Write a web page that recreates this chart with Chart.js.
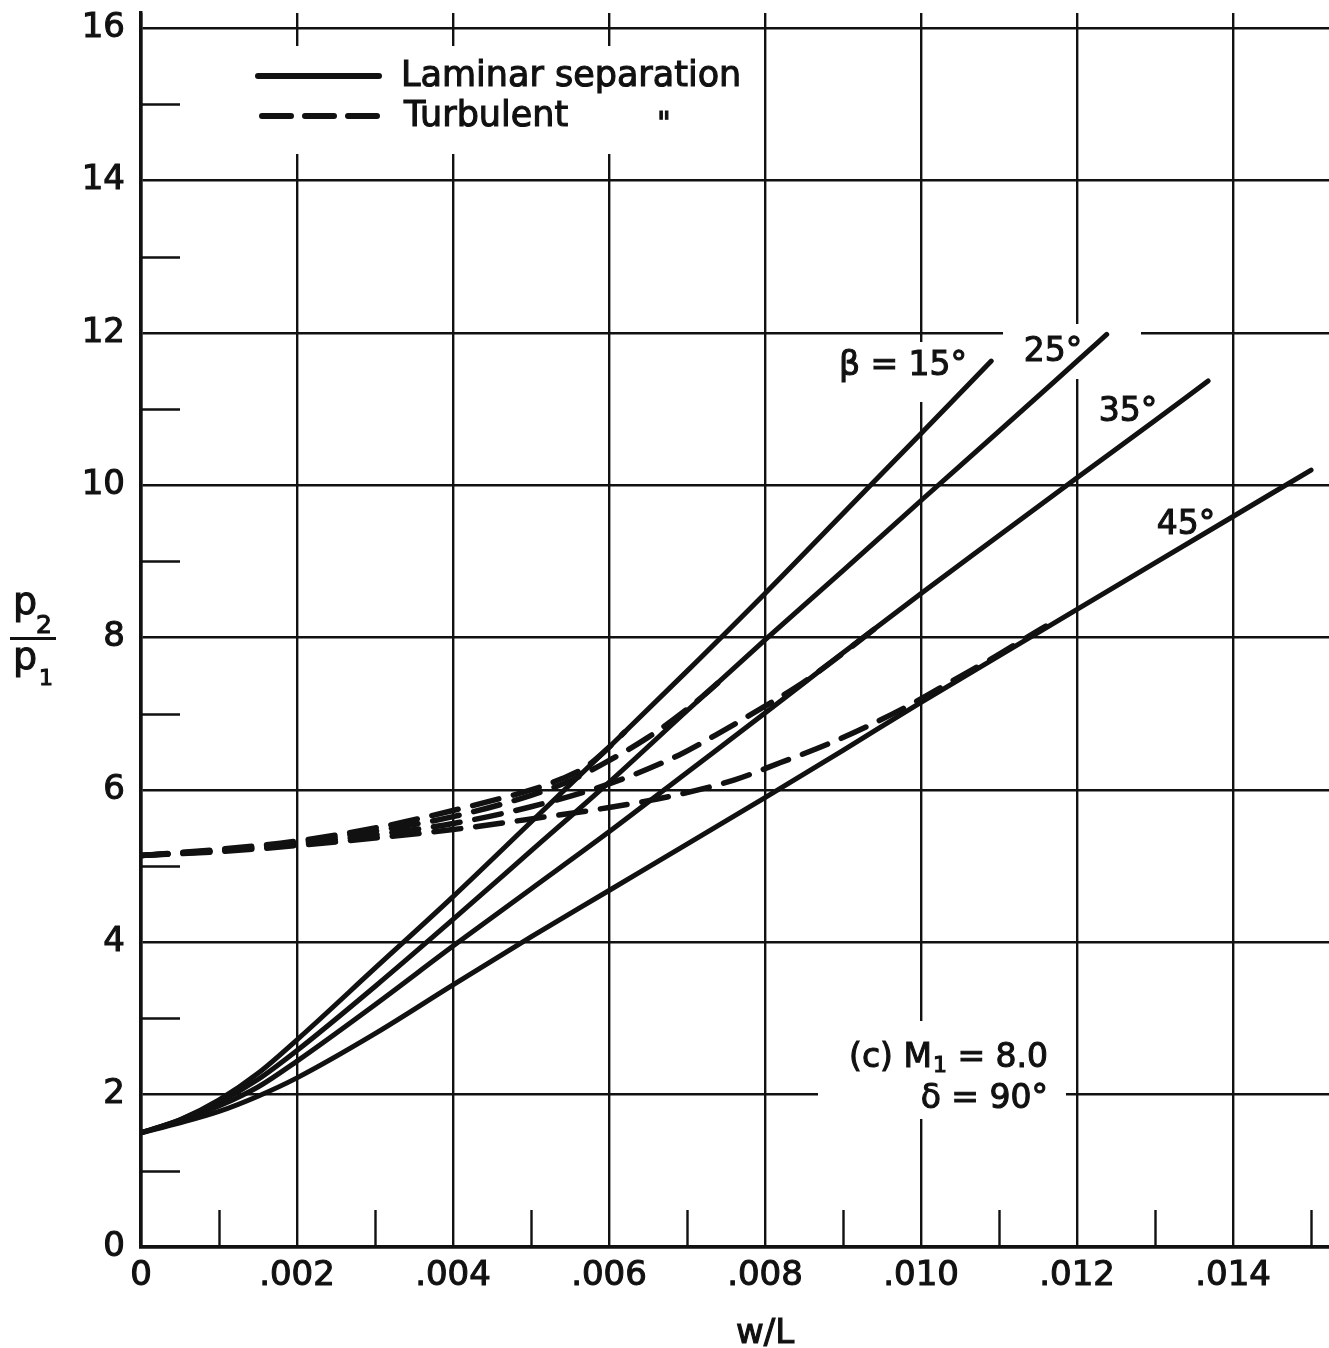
<!DOCTYPE html>
<html>
<head>
<meta charset="utf-8">
<script src="https://cdn.jsdelivr.net/npm/chart.js@4.4.1/dist/chart.umd.min.js"></script>
<style>
  html, body { margin: 0; padding: 0; background: #fff; }
  canvas { display: block; }
</style>
</head>
<body>
<canvas id="chart" width="1329" height="1348"></canvas>
<script>
// laminar separation, p2/p1 against w/L for each beta
const lam15X = [0, 0.0005, 0.001, 0.0015, 0.002, 0.003, 0.004, 0.005, 0.006, 0.007, 0.008, 0.009, 0.010, 0.0109];
const lam15Y = [1.5, 1.67, 1.93, 2.28, 2.72, 3.66, 4.6, 5.58, 6.56, 7.56, 8.58, 9.63, 10.68, 11.63];

const lam25X = [0, 0.0005, 0.001, 0.0015, 0.002, 0.003, 0.004, 0.005, 0.006, 0.007, 0.008, 0.009, 0.010, 0.011, 0.012, 0.01238];
const lam25Y = [1.5, 1.67, 1.9, 2.2, 2.58, 3.42, 4.3, 5.2, 6.1, 7.04, 7.97, 8.88, 9.8, 10.71, 11.63, 11.98];

const lam35X = [0, 0.0005, 0.001, 0.0015, 0.002, 0.003, 0.004, 0.005, 0.006, 0.007, 0.008, 0.009, 0.010, 0.011, 0.012, 0.013, 0.01368];
const lam35Y = [1.5, 1.65, 1.85, 2.1, 2.44, 3.18, 3.95, 4.7, 5.45, 6.23, 7.01, 7.8, 8.58, 9.34, 10.1, 10.85, 11.37];

const lam45X = [0, 0.0005, 0.001, 0.0015, 0.002, 0.003, 0.004, 0.005, 0.006, 0.007, 0.008, 0.009, 0.010, 0.011, 0.012, 0.013, 0.014, 0.0150];
const lam45Y = [1.5, 1.63, 1.78, 1.98, 2.22, 2.8, 3.44, 4.07, 4.68, 5.29, 5.9, 6.52, 7.15, 7.76, 8.37, 8.98, 9.59, 10.2];

// turbulent separation, running into the laminar curve of the same beta
const turb15X = [0, 0.001, 0.002, 0.003, 0.004, 0.0045, 0.005, 0.0054, 0.0057, 0.006, 0.0062];
const turb15Y = [5.14, 5.22, 5.33, 5.5, 5.73, 5.86, 6.0, 6.15, 6.3, 6.56, 6.76];

const turb25X = [0, 0.001, 0.002, 0.003, 0.004, 0.005, 0.0055, 0.0059, 0.0065, 0.007, 0.0072, 0.0075];
const turb25Y = [5.14, 5.21, 5.31, 5.46, 5.65, 5.93, 6.12, 6.33, 6.69, 7.06, 7.23, 7.5];

const turb35X = [0, 0.001, 0.002, 0.003, 0.004, 0.005, 0.006, 0.0069, 0.0075, 0.008, 0.0084, 0.0088, 0.0094];
const turb35Y = [5.14, 5.2, 5.29, 5.41, 5.56, 5.78, 6.08, 6.46, 6.8, 7.1, 7.35, 7.64, 8.11];

const turb45X = [0, 0.001, 0.002, 0.003, 0.004, 0.005, 0.006, 0.0068, 0.0076, 0.0082, 0.0088, 0.0093, 0.0099, 0.0104, 0.0109, 0.0114, 0.0116];
const turb45Y = [5.14, 5.19, 5.27, 5.37, 5.48, 5.62, 5.77, 5.92, 6.13, 6.36, 6.6, 6.83, 7.14, 7.43, 7.72, 8.03, 8.15];

const xMax = 0.01523;
const yMax = 16.2;
const xStep = 0.002;
const yStep = 2;

const FONT = '"DejaVu Sans", sans-serif';
const INK = '#111';

function pts(xs, ys) {
  return xs.map((x, i) => ({ x: x, y: ys[i] }));
}

function curve(xs, ys, dashed) {
  return {
    data: pts(xs, ys),
    borderColor: INK,
    borderWidth: dashed ? 5.5 : 5,
    borderDash: dashed ? [27, 15] : [],
    borderCapStyle: 'round',
    borderJoinStyle: 'round',
    cubicInterpolationMode: 'monotone',
    pointRadius: 0,
    fill: false
  };
}

// filled and lightly stroked so the lettering reads as heavy as the ink lines
function text(ctx, str, x, y, size, align, baseline) {
  ctx.font = size + 'px ' + FONT;
  ctx.textAlign = align || 'left';
  ctx.textBaseline = baseline || 'alphabetic';
  ctx.lineWidth = 1.1;
  ctx.fillText(str, x, y);
  ctx.strokeText(str, x, y);
}

// paper patches: grid lines break around the lettering, minor ticks inside the frame
const paperPlugin = {
  id: 'paper',
  beforeDatasetsDraw(chart) {
    const ctx = chart.ctx;
    const xs = chart.scales.x, ys = chart.scales.y;
    const area = chart.chartArea;
    ctx.save();
    ctx.fillStyle = '#fff';
    ctx.fillRect(250, 46, 500, 108);
    ctx.fillRect(838, 342, 128, 60);
    ctx.fillRect(1003, 324, 138, 55);
    ctx.fillRect(818, 1021, 248, 98);

    ctx.strokeStyle = INK;
    ctx.lineWidth = 2.4;
    ctx.beginPath();
    xs.ticks.forEach(t => {
      const v = t.value + xStep / 2;
      if (v >= xs.max) return;
      const px = Math.round(xs.getPixelForValue(v)) + 0.5;
      ctx.moveTo(px, area.bottom);
      ctx.lineTo(px, area.bottom - 37);
    });
    ys.ticks.forEach(t => {
      const v = t.value + yStep / 2;
      if (v >= 16) return;
      const py = Math.round(ys.getPixelForValue(v)) + 0.5;
      ctx.moveTo(area.left, py);
      ctx.lineTo(area.left + 39, py);
    });
    ctx.stroke();
    ctx.restore();
  },
  afterDraw(chart) {
    const ctx = chart.ctx;
    const xs = chart.scales.x;
    ctx.save();
    ctx.fillStyle = INK;
    ctx.strokeStyle = INK;

    // key
    ctx.lineCap = 'round';
    ctx.lineWidth = 6;
    ctx.beginPath();
    ctx.moveTo(258, 76);
    ctx.lineTo(379, 76);
    ctx.stroke();
    ctx.setLineDash([29, 14]);
    ctx.beginPath();
    ctx.moveTo(262, 116);
    ctx.lineTo(377, 116);
    ctx.stroke();
    ctx.setLineDash([]);
    text(ctx, 'Laminar separation', 401, 77, 35, 'left', 'middle');
    text(ctx, 'Turbulent', 404, 117, 35, 'left', 'middle');
    text(ctx, '"', 664, 133, 30, 'center');

    // beta labels
    text(ctx, '\u03b2 = 15\u00b0', 903, 366, 33, 'center', 'middle');
    text(ctx, '25\u00b0', 1053, 352, 33, 'center', 'middle');
    text(ctx, '35\u00b0', 1128, 412, 33, 'center', 'middle');
    text(ctx, '45\u00b0', 1186, 525, 33, 'center', 'middle');

    // case note with subscript
    ctx.font = '33px ' + FONT;
    const w1 = ctx.measureText('(c) M').width;
    const w3 = ctx.measureText(' = 8.0').width;
    ctx.font = '22px ' + FONT;
    const w2 = ctx.measureText('1').width;
    const cx = 1047 - (w1 + w2 + w3);
    text(ctx, '(c) M', cx, 1067, 33);
    text(ctx, '1', cx + w1 + 1, 1072, 22);
    text(ctx, ' = 8.0', cx + w1 + w2 + 1, 1067, 33);
    text(ctx, '\u03b4 = 90\u00b0', 1048, 1108, 33, 'right');

    // axis titles
    text(ctx, 'w/L', xs.getPixelForValue(0.008), 1334, 34, 'center', 'middle');
    text(ctx, 'p', 13, 614, 38);
    text(ctx, '2', 36, 633, 25);
    ctx.fillRect(10, 637, 46, 3);
    text(ctx, 'p', 13, 669, 38);
    text(ctx, '1', 39, 685, 22);
    ctx.restore();
  }
};

function xLabel(v) {
  if (Math.abs(v) < 1e-9) return '0';
  return v.toFixed(3).replace(/^0/, '');
}

new Chart(document.getElementById('chart').getContext('2d'), {
  type: 'line',
  data: {
    datasets: [
      curve(turb15X, turb15Y, true),
      curve(turb25X, turb25Y, true),
      curve(turb35X, turb35Y, true),
      curve(turb45X, turb45Y, true),
      curve(lam15X, lam15Y, false),
      curve(lam25X, lam25Y, false),
      curve(lam35X, lam35Y, false),
      curve(lam45X, lam45Y, false)
    ]
  },
  options: {
    responsive: false,
    animation: false,
    events: [],
    layout: { padding: { top: 13, right: 0, bottom: 0, left: 0 } },
    plugins: {
      legend: { display: false },
      tooltip: { enabled: false }
    },
    scales: {
      x: {
        type: 'linear',
        min: 0,
        max: xMax,
        afterFit(s) { s.height = 101; s.paddingLeft = 0; s.paddingRight = 0; },
        ticks: {
          stepSize: xStep,
          includeBounds: false,
          autoSkip: false,
          maxRotation: 0,
          padding: 9,
          color: INK,
          textStrokeColor: INK,
          textStrokeWidth: 1.1,
          font: { family: FONT, size: 34 },
          callback: xLabel
        },
        grid: { color: INK, lineWidth: 2.4, drawTicks: false },
        border: { color: INK, width: 3.5 }
      },
      y: {
        type: 'linear',
        min: 0,
        max: yMax,
        afterFit(s) { s.width = 141; s.paddingTop = 0; s.paddingBottom = 0; },
        ticks: {
          stepSize: yStep,
          includeBounds: false,
          padding: 16,
          color: INK,
          textStrokeColor: INK,
          textStrokeWidth: 1.1,
          font: { family: FONT, size: 34 },
          callback: v => String(v)
        },
        grid: { color: INK, lineWidth: 2.4, drawTicks: false },
        border: { color: INK, width: 3.5 }
      }
    }
  },
  plugins: [paperPlugin]
});
</script>
</body>
</html>
